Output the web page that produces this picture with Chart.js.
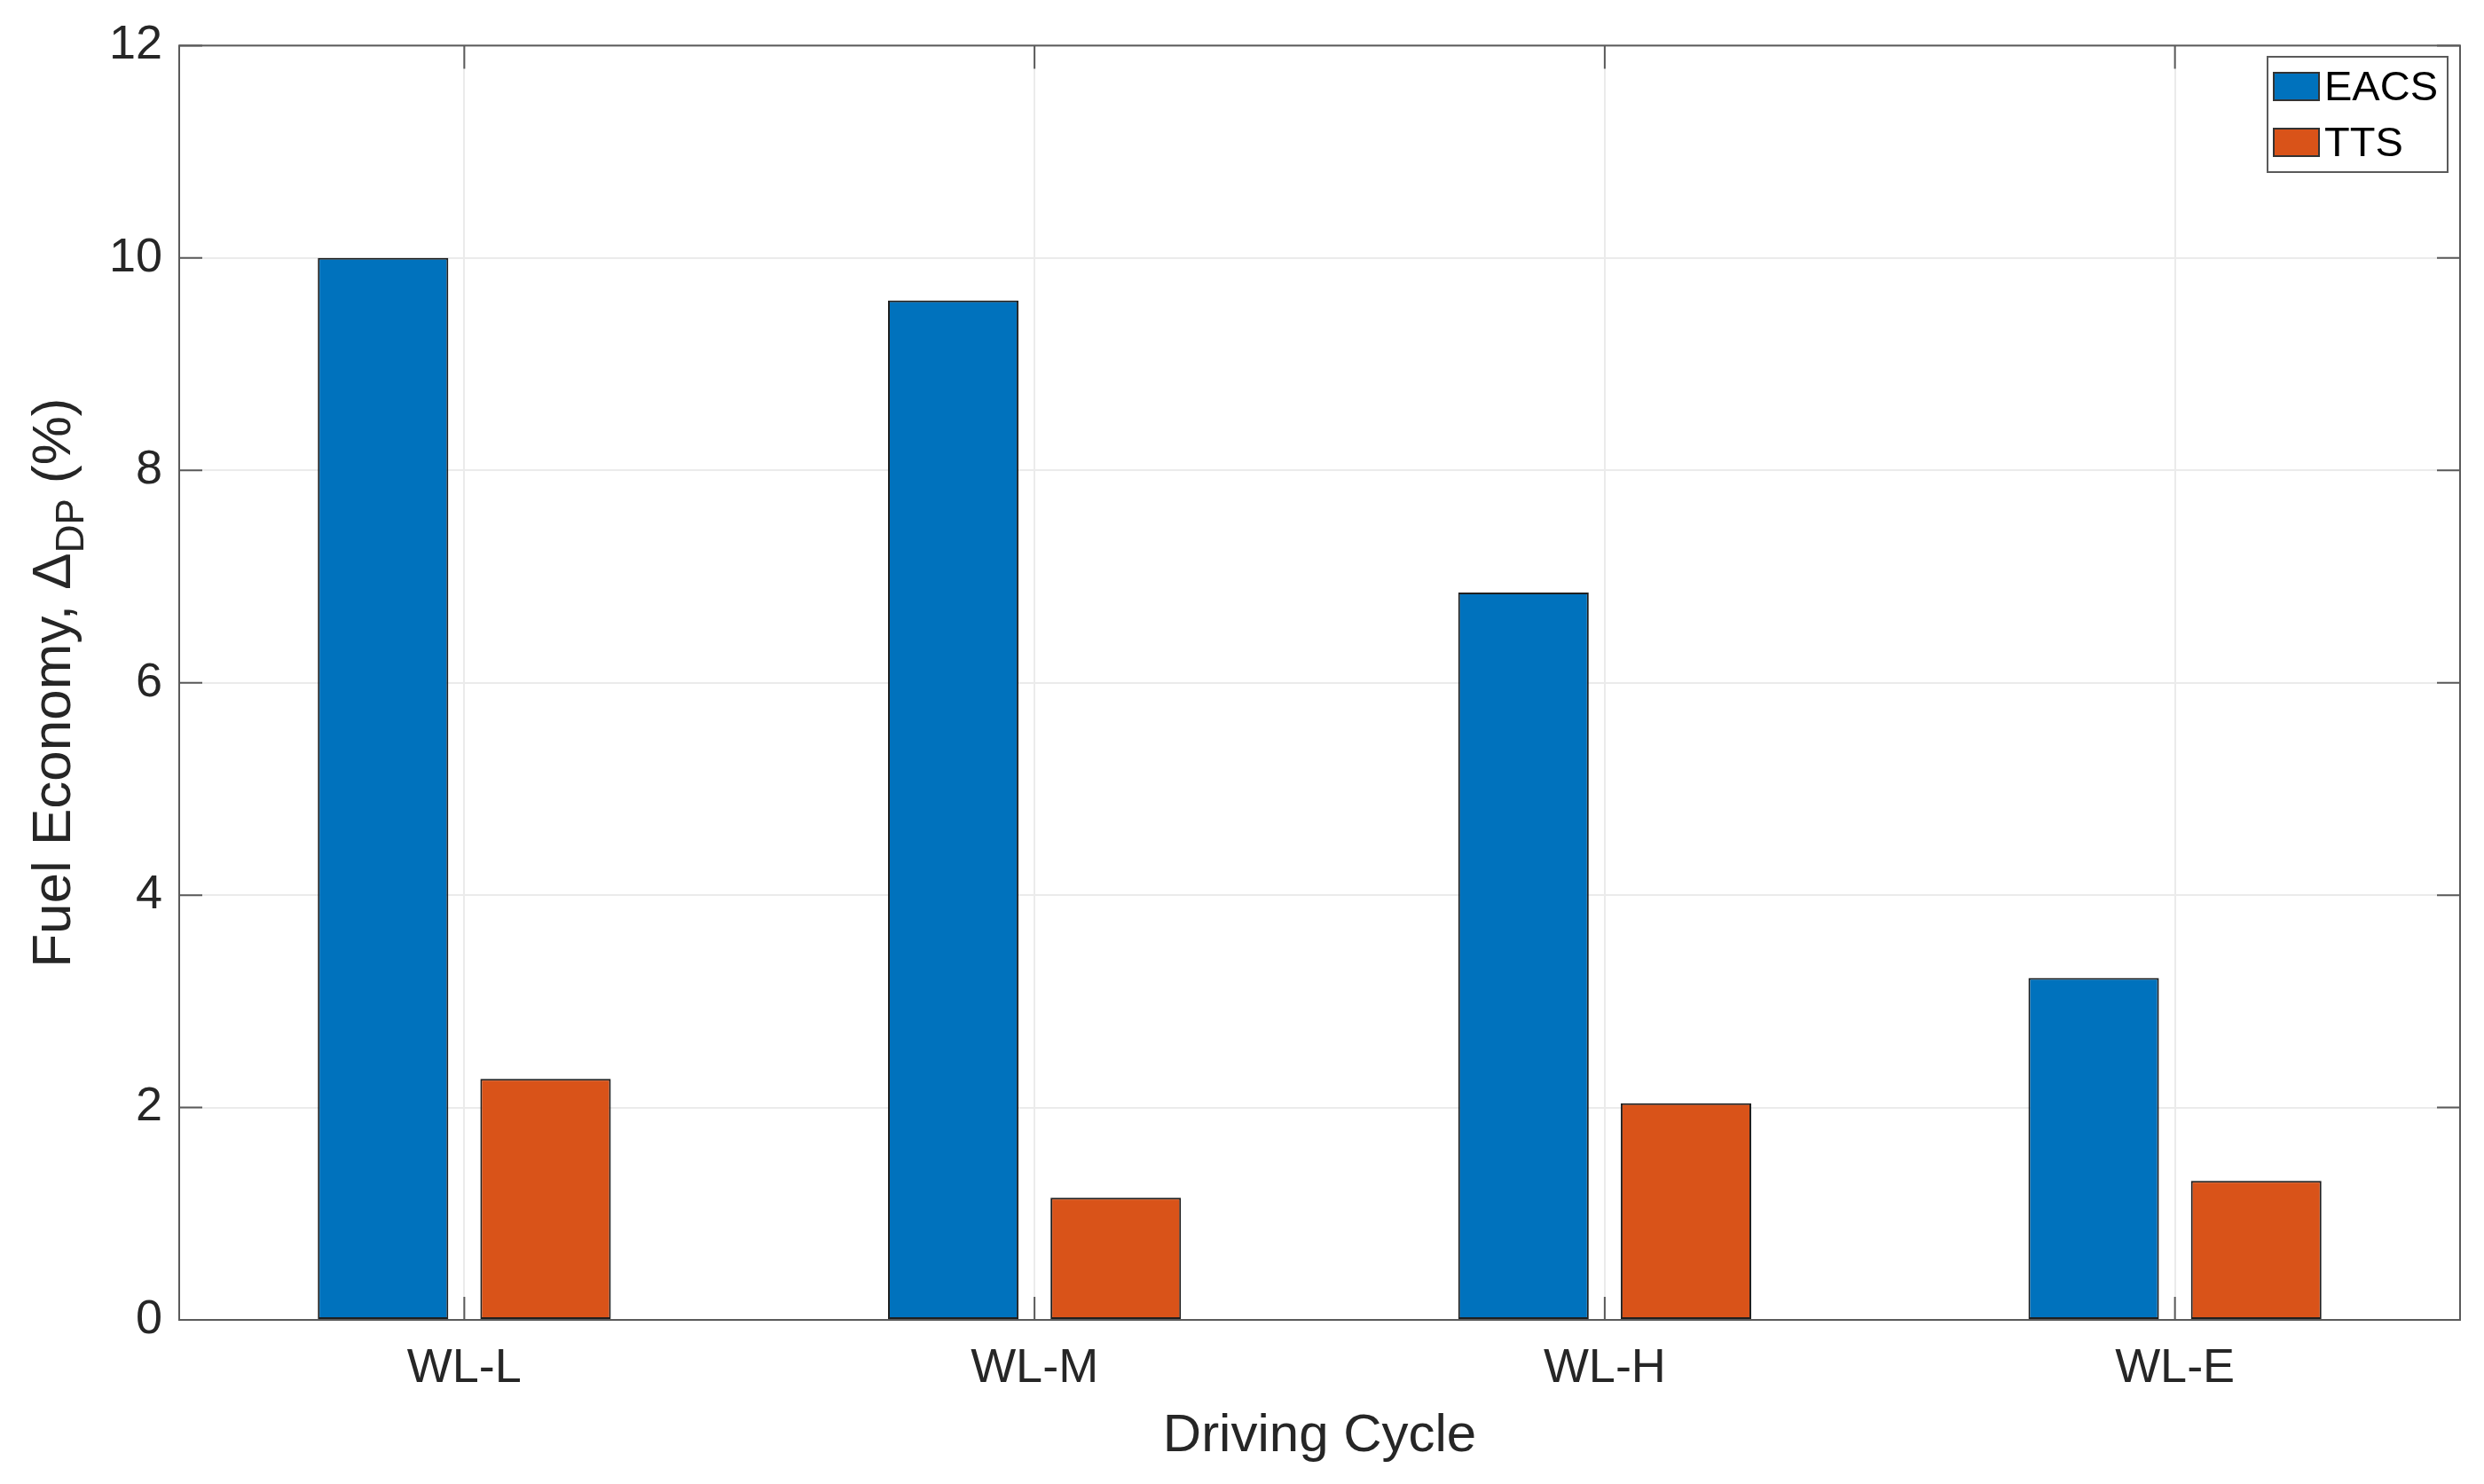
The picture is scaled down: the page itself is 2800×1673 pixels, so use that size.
<!DOCTYPE html>
<html>
<head>
<meta charset="utf-8">
<script src="https://cdn.jsdelivr.net/npm/chart.js@4.4.1/dist/chart.umd.min.js"></script>
<style>
  html, body { margin: 0; padding: 0; background: #fff; }
  canvas { display: block; }
</style>
</head>
<body>
<canvas id="barChart" width="2800" height="1673"></canvas>
<script>
var categories = ['WL-L', 'WL-M', 'WL-H', 'WL-E'];
var eacsValues = [10.0, 9.6, 6.85, 3.22];
var ttsValues = [2.27, 1.15, 2.04, 1.31];
var yTicks = [0, 2, 4, 6, 8, 10, 12];

var fontFamily = '"Liberation Sans", Arial, Helvetica, sans-serif';
var textColor = '#262626';
var axisColor = '#5a5a5a';

// box, inward ticks, axis titles and legend drawn the matlab way
var matlabFrame = {
  id: 'matlabFrame',
  afterDatasetsDraw: function (chart) {
    var ctx = chart.ctx;
    var area = chart.chartArea;
    var xs = chart.scales.x;
    var ys = chart.scales.y;
    var tickLen = 26;

    ctx.save();
    ctx.strokeStyle = axisColor;
    ctx.lineWidth = 2;
    ctx.strokeRect(area.left, area.top, area.right - area.left, area.bottom - area.top);

    ctx.beginPath();
    xs.ticks.forEach(function (t, i) {
      var px = xs.getPixelForTick(i);
      ctx.moveTo(px, area.bottom);
      ctx.lineTo(px, area.bottom - tickLen);
      ctx.moveTo(px, area.top);
      ctx.lineTo(px, area.top + tickLen);
    });
    ys.ticks.forEach(function (t, i) {
      var py = ys.getPixelForTick(i);
      ctx.moveTo(area.left, py);
      ctx.lineTo(area.left + tickLen, py);
      ctx.moveTo(area.right, py);
      ctx.lineTo(area.right - tickLen, py);
    });
    ctx.stroke();

    // x title
    ctx.fillStyle = textColor;
    ctx.font = '60px ' + fontFamily;
    ctx.textAlign = 'center';
    ctx.textBaseline = 'alphabetic';
    ctx.fillText('Driving Cycle', (area.left + area.right) / 2, 1636);

    // y title with subscript
    var parts = [
      { text: 'Fuel Economy, \u0394', size: 62, dy: 0 },
      { text: 'DP', size: 44, dy: 15 },
      { text: ' (%)', size: 62, dy: 0 }
    ];
    var total = 0;
    parts.forEach(function (p) {
      ctx.font = p.size + 'px ' + fontFamily;
      p.w = ctx.measureText(p.text).width;
      total += p.w;
    });
    ctx.translate(79, (area.top + area.bottom) / 2);
    ctx.rotate(-Math.PI / 2);
    ctx.textAlign = 'left';
    var cx = -total / 2;
    parts.forEach(function (p) {
      ctx.font = p.size + 'px ' + fontFamily;
      ctx.fillText(p.text, cx, p.dy);
      cx += p.w;
    });
    ctx.setTransform(1, 0, 0, 1, 0, 0);

    // legend
    var lx = 2556, ly = 64, lw = 203, lh = 130;
    ctx.fillStyle = '#ffffff';
    ctx.fillRect(lx, ly, lw, lh);
    ctx.strokeStyle = axisColor;
    ctx.lineWidth = 2;
    ctx.strokeRect(lx, ly, lw, lh);
    ctx.font = '47px ' + fontFamily;
    ctx.textAlign = 'left';
    ctx.textBaseline = 'middle';
    chart.data.datasets.forEach(function (ds, i) {
      var py = 82 + i * 63;
      ctx.fillStyle = ds.backgroundColor;
      ctx.fillRect(2563, py, 51, 31);
      ctx.strokeStyle = '#333333';
      ctx.lineWidth = 2;
      ctx.strokeRect(2563, py, 51, 31);
      ctx.fillStyle = '#000000';
      ctx.fillText(ds.label, 2620, py + 18);
    });
    ctx.restore();
  }
};

var ctx = document.getElementById('barChart').getContext('2d');

var barChart = new Chart(ctx, {
  type: 'bar',
  data: {
    labels: categories,
    datasets: [
      {
        label: 'EACS',
        data: eacsValues,
        backgroundColor: '#0072BD',
        borderColor: '#1f1f1f',
        borderWidth: 2,
        borderSkipped: false
      },
      {
        label: 'TTS',
        data: ttsValues,
        backgroundColor: '#D95319',
        borderColor: '#1f1f1f',
        borderWidth: 2,
        borderSkipped: false
      }
    ]
  },
  options: {
    responsive: false,
    devicePixelRatio: 1,
    animation: false,
    categoryPercentage: 0.57,
    barPercentage: 0.803,
    layout: { padding: { top: 51, right: 27, left: 0, bottom: 0 } },
    plugins: {
      legend: { display: false },
      tooltip: { enabled: false }
    },
    scales: {
      x: {
        offset: true,
        grid: { offset: false, color: '#ebebeb', lineWidth: 2, drawTicks: false },
        border: { display: false },
        ticks: {
          color: textColor,
          padding: 23,
          font: { size: 54, family: fontFamily }
        },
        afterFit: function (scale) { scale.height = 185; }
      },
      y: {
        min: 0,
        max: 12,
        grid: { color: '#ebebeb', lineWidth: 2, drawTicks: false },
        border: { display: false },
        afterBuildTicks: function (scale) {
          scale.ticks = yTicks.map(function (v) { return { value: v }; });
        },
        ticks: {
          color: textColor,
          padding: 19,
          font: { size: 54, family: fontFamily }
        },
        afterFit: function (scale) { scale.width = 202; }
      }
    }
  },
  plugins: [matlabFrame]
});
</script>
</body>
</html>
